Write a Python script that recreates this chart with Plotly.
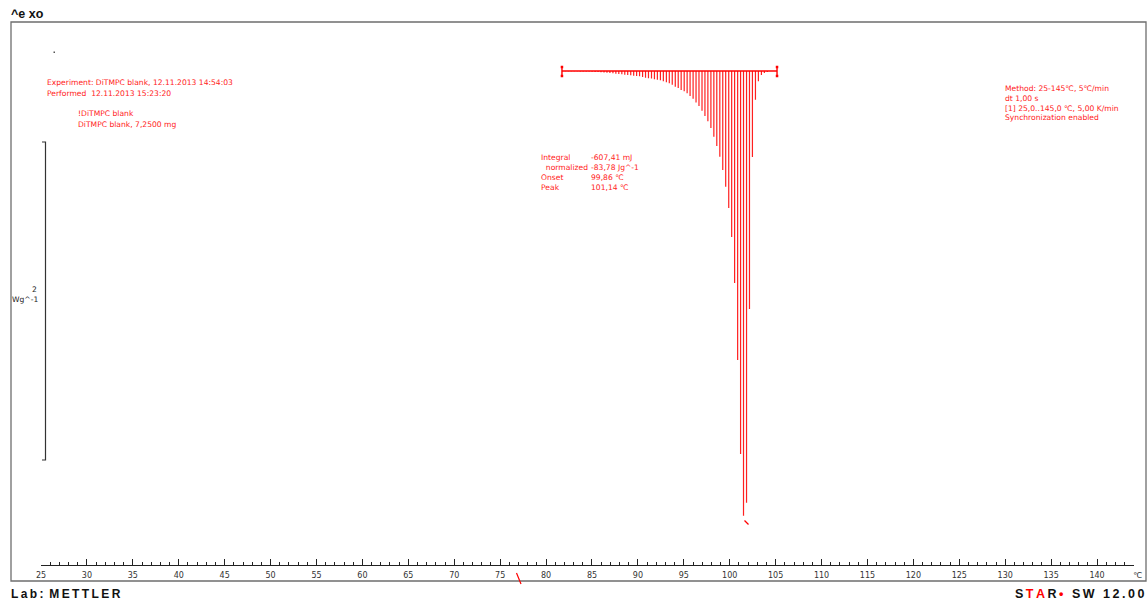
import plotly.graph_objects as go

W, H = 1148, 600

# ---- data: DSC integration hatching (temperature in degC, heat flow relative to baseline in W/g)
temps = [81.78, 82.10, 82.43, 82.75, 83.07, 83.40, 83.72, 84.04, 84.37, 84.69,
         85.01, 85.34, 85.66, 85.98, 86.31, 86.63, 86.95, 87.28, 87.60, 87.92,
         88.25, 88.57, 88.89, 89.22, 89.54, 89.86, 90.18, 90.51, 90.83, 91.15,
         91.48, 91.80, 92.12, 92.45, 92.77, 93.10, 93.42, 93.74, 94.07, 94.39,
         94.71, 95.04, 95.36, 95.68, 96.01, 96.33, 96.65, 96.98, 97.30, 97.62,
         97.95, 98.27, 98.59, 98.92, 99.24, 99.56, 99.89, 100.21, 100.53, 100.86,
         101.18, 101.50, 101.83, 102.15, 102.47, 102.80, 103.12, 103.45, 103.77, 104.09]
heatflow = [-0.001, -0.001, -0.001, -0.001, -0.001, -0.002, -0.003, -0.003, -0.003, -0.004,
            -0.005, -0.006, -0.006, -0.008, -0.009, -0.011, -0.013, -0.014, -0.017, -0.019,
            -0.021, -0.023, -0.025, -0.027, -0.030, -0.031, -0.033, -0.038, -0.042, -0.046,
            -0.048, -0.052, -0.055, -0.058, -0.065, -0.071, -0.077, -0.086, -0.099, -0.107,
            -0.119, -0.128, -0.140, -0.157, -0.174, -0.199, -0.220, -0.250, -0.283, -0.316,
            -0.358, -0.413, -0.472, -0.539, -0.623, -0.728, -0.862, -1.044, -1.333, -1.818,
            -2.409, -2.797, -2.715, -1.497, -0.541, -0.181, -0.065, -0.025, -0.013, -0.006]
baseline_limits = [81.73, 105.15]
x_ticks = [25, 30, 35, 40, 45, 50, 55, 60, 65, 70, 75, 80, 85, 90, 95, 100, 105,
           110, 115, 120, 125, 130, 135, 140]

info_left = ["Experiment: DiTMPC blank, 12.11.2013 14:54:03",
             "Performed\u00a0\u00a012.11.2013 15:23:20"]
info_sample = ["!DiTMPC blank", "DiTMPC blank, 7,2500 mg"]
info_method = ["Method: 25-145\u2103, 5\u2103/min", "dt 1,00 s",
               "[1] 25,0..145,0 \u2103, 5,00 K/min", "Synchronization enabled"]
result_labels = ["Integral", "\u00a0\u00a0normalized", "Onset", "Peak"]
result_values = ["-607,41 mJ", "-83,78 Jg^-1", "99,86 \u2103", "101,14 \u2103"]

RED = "#ff1a1a"
SMALL = dict(family="DejaVu Sans", size=7.6, color=RED)

def px(x):
    return x / W

def py(y):
    return 1 - y / H

# stems built from data
sx, sy = [], []
for t, v in zip(temps, heatflow):
    sx += [t, t, None]
    sy += [0, v, None]

fig = go.Figure()
fig.add_trace(go.Scatter(x=sx, y=sy, mode="lines", line=dict(color="#ff2020", width=1.2),
                         hoverinfo="skip", showlegend=False))
fig.add_trace(go.Scatter(x=baseline_limits, y=[0, 0], mode="lines",
                         line=dict(color="#ff0000", width=1.6), showlegend=False, hoverinfo="skip"))
for b in baseline_limits:
    fig.add_trace(go.Scatter(x=[b, b], y=[0.025, -0.031], mode="lines+markers",
                             line=dict(color="#ff0000", width=1.4),
                             marker=dict(symbol="square", size=2.5, color="#ff0000"),
                             showlegend=False, hoverinfo="skip"))

ann = []
def text(x, y, s, font=SMALL, xanchor="left"):
    ann.append(dict(x=px(x), y=py(y), xref="paper", yref="paper", text=s, showarrow=False,
                    xanchor=xanchor, yanchor="middle", font=font))

for i, s in enumerate(info_left):
    text(45, 83 + 10 * i, s)
for i, s in enumerate(info_sample):
    text(76, 114 + 10 * i, s)
for i, s in enumerate(info_method):
    text(1003, 89 + 9.6 * i, s)
for i, s in enumerate(result_labels):
    text(539, 158 + 9.7 * i, s)
for i, s in enumerate(result_values):
    text(589, 158 + 9.7 * i, s)

DARK = dict(family="DejaVu Sans", size=7.6, color="#222222")
text(39, 289, "2", DARK, "right")
text(40, 299, "Wg^-1", DARK, "right")
text(1131, 575, "\u2103", dict(family="DejaVu Sans", size=8, color="#333333"))

ts = "\u2009"
BOLD = dict(family="Liberation Sans", size=12.5, color="#111111", weight="bold")
BOLD12 = dict(family="Liberation Sans", size=12, color="#111111", weight="bold")
text(9, 14, "^e xo", BOLD)
text(9, 594, ts.join("Lab:") + ts + " " + ts.join("METTLER"), BOLD12)
star = ("S" + ts + "<span style='color:#ff0000'>T" + ts + "A</span>" + ts + "R" + ts
        + "<span style='color:#ff0000'>\u2022</span>" + ts + " " + ts + ts.join("SW")
        + ts + " " + ts + ts.join("12.00"))
text(1146, 594, star, BOLD, "right")

shapes = [
    dict(type="rect", xref="paper", yref="paper", x0=px(11), x1=px(1146), y0=py(581), y1=py(22),
         line=dict(color="#6e6e6e", width=1.3)),
    dict(type="path", xref="paper", yref="paper",
         path=f"M {px(42)} {py(142)} L {px(45.5)} {py(142)} L {px(45.5)} {py(460)} L {px(42)} {py(460)}",
         line=dict(color="#333333", width=1.2)),
    dict(type="line", xref="paper", yref="paper", x0=px(516.5), y0=py(573), x1=px(521), y1=py(584),
         line=dict(color="#ff0000", width=1.2)),
    dict(type="line", xref="paper", yref="paper", x0=px(744.5), y0=py(520.5), x1=px(748.5), y1=py(524.5),
         line=dict(color="#ff0000", width=1.2)),
    dict(type="rect", xref="paper", yref="paper", x0=px(53.5), x1=px(55), y0=py(53), y1=py(51.5),
         line=dict(width=0), fillcolor="#555555"),
]

fig.update_layout(
    width=W, height=H, margin=dict(l=0, r=0, t=0, b=0, autoexpand=False),
    paper_bgcolor="white", plot_bgcolor="white",
    annotations=ann, shapes=shapes, showlegend=False,
    xaxis=dict(range=[25, 144], domain=[41 / W, 1133.8 / W], showline=True, linecolor="#222222",
               linewidth=1, ticks="inside", ticklen=6, tickwidth=1, tickcolor="#222222",
               tickvals=x_ticks, showgrid=False, zeroline=False, automargin=False,
               ticklabelstandoff=2,
               tickfont=dict(family="DejaVu Sans", size=8, color="#333333"),
               minor=dict(dtick=1, tick0=25, ticks="inside", ticklen=3, tickcolor="#222222",
                          showgrid=False),
               fixedrange=True),
    yaxis=dict(range=[-3.107, 0.308], domain=[1 - 565 / H, 1 - 22 / H], visible=False,
               automargin=False, fixedrange=True),
)

fig.write_html("out.html", config={"displayModeBar": False},
               post_script="document.body.style.margin='0';")
